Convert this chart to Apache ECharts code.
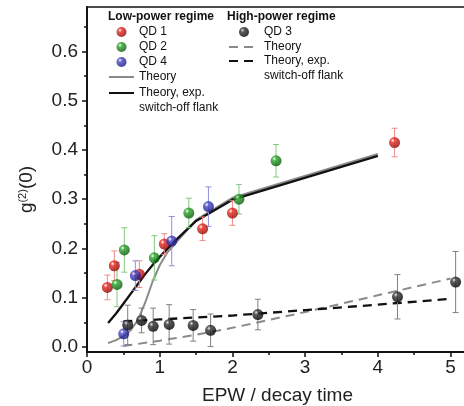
<!DOCTYPE html>
<html><head><meta charset="utf-8">
<script src="https://cdn.jsdelivr.net/npm/echarts@6/dist/echarts.min.js"></script>
<style>html,body{margin:0;padding:0;background:#fff}#c{width:464px;height:406px}</style>
</head><body><div id="c"></div>
<script>
// ---- data ----
const qd1X = [0.28, 0.376, 0.72, 1.063, 1.59, 2.0, 4.23];
const qd1Y = [0.121, 0.165, 0.148, 0.209, 0.240, 0.272, 0.415];
const qd1Err = [0.025, 0.03, 0.027, 0.021, 0.024, 0.025, 0.029];
const qd2X = [0.413, 0.513, 0.926, 1.40, 2.09, 2.6];
const qd2Y = [0.127, 0.197, 0.181, 0.272, 0.300, 0.378];
const qd2Err = [0.045, 0.045, 0.045, 0.03, 0.03, 0.033];
const qd4X = [0.505, 0.665, 1.165, 1.67];
const qd4Y = [0.027, 0.145, 0.215, 0.285];
const qd4Err = [0.025, 0.03, 0.05, 0.04];
const qd3X = [0.56, 0.75, 0.91, 1.13, 1.46, 1.70, 2.35, 4.27, 5.07];
const qd3Y = [0.045, 0.054, 0.042, 0.046, 0.044, 0.034, 0.066, 0.102, 0.132];
const qd3Err = [0.04, 0.025, 0.037, 0.04, 0.032, 0.033, 0.031, 0.045, 0.062];
const lowTheoryX = [0.29, 0.4, 0.5, 0.6, 0.7, 0.8, 0.9, 1.0, 1.1, 1.2, 1.5, 2.0, 4.0];
const lowTheoryY = [0.008, 0.014, 0.022, 0.034, 0.055, 0.090, 0.132, 0.166, 0.191, 0.208, 0.258, 0.303, 0.392];
const lowFlankX = [0.29, 0.4, 0.5, 0.6, 0.7, 0.8, 0.9, 1.0, 1.2, 1.5, 2.0, 4.0];
const lowFlankY = [0.049, 0.068, 0.088, 0.108, 0.128, 0.148, 0.166, 0.183, 0.214, 0.256, 0.299, 0.388];
const highTheoryX = [0.5, 1.0, 1.5, 2.0, 3.0, 4.0, 5.0];
const highTheoryY = [0.002, 0.013, 0.025, 0.039, 0.071, 0.105, 0.139];
const highFlankX = [0.5, 1.0, 1.5, 2.0, 3.0, 4.0, 5.0];
const highFlankY = [0.052, 0.056, 0.060, 0.064, 0.075, 0.086, 0.098];
const xTicks = [0, 1, 2, 3, 4, 5];
const xMinorTicks = [0.5, 1.5, 2.5, 3.5, 4.5];
const yTicks = [0, 0.1, 0.2, 0.3, 0.4, 0.5, 0.6];
const yMinorTicks = [0.05, 0.15, 0.25, 0.35, 0.45, 0.55, 0.65];

const FONT = 'Liberation Sans, Arial, sans-serif';
const zip = (a, b) => a.map((v, i) => [v, b[i]]);
const zip3 = (a, b, c) => a.map((v, i) => [v, b[i], c[i]]);

function ball(base, dark, hi) {
  return new echarts.graphic.RadialGradient(0.35, 0.32, 0.7, [
    { offset: 0, color: hi || '#ffffff' },
    { offset: 0.28, color: base },
    { offset: 1, color: dark }
  ]);
}

function errSeries(x, y, e, color) {
  return {
    type: 'custom', silent: true, z: 3,
    data: zip3(x, y, e),
    renderItem: function (params, api) {
      const xv = api.value(0), yv = api.value(1), ev = api.value(2);
      const t = api.coord([xv, yv + ev]);
      const b = api.coord([xv, yv - ev]);
      const w = 3;
      const st = { stroke: color, lineWidth: 1 };
      return {
        type: 'group', children: [
          { type: 'line', shape: { x1: t[0], y1: t[1], x2: b[0], y2: b[1] }, style: st },
          { type: 'line', shape: { x1: t[0] - w, y1: t[1], x2: t[0] + w, y2: t[1] }, style: st },
          { type: 'line', shape: { x1: b[0] - w, y1: b[1], x2: b[0] + w, y2: b[1] }, style: st }
        ]
      };
    }
  };
}

function scatter(name, x, y, color) {
  return { name: name, type: 'scatter', z: 5, symbol: 'circle', symbolSize: 11,
    data: zip(x, y), itemStyle: { color: color } };
}

const labelMap = {
  'QD 1': 'QD 1', 'QD 2': 'QD 2', 'QD 4': 'QD 4', 'QD 3': 'QD 3',
  'Theory (low)': 'Theory', 'Theory (high)': 'Theory',
  'Flank (low)': ' \nTheory, exp.\nswitch-off flank',
  'Flank (high)': ' \nTheory, exp.\nswitch-off flank'
};
const lineNames = ['Theory (low)', 'Theory (high)', 'Flank (low)', 'Flank (high)'];
const legendText = { fontFamily: FONT, fontSize: 12, color: '#111', lineHeight: 15 };
function legend(names, left, top, w) {
  return {
    data: names.map(n => lineNames.indexOf(n) >= 0 ? { name: n, itemStyle: { opacity: 0 } } : n),
    orient: 'vertical', left: left, top: top, padding: 0,
    itemWidth: w, itemHeight: 10, itemGap: 0, selectedMode: false,
    textStyle: legendText, formatter: n => labelMap[n]
  };
}

const chart = echarts.init(document.getElementById('c'), null, { renderer: 'canvas' });
chart.setOption({
  animation: false,
  backgroundColor: '#fff',
  textStyle: { fontFamily: FONT },
  title: [
    { text: 'Low-power regime', left: 108, top: 10, padding: 0,
      textStyle: { fontFamily: FONT, fontSize: 12, fontWeight: 'bold', color: '#111', lineHeight: 14 } },
    { text: 'High-power regime', left: 227, top: 10, padding: 0,
      textStyle: { fontFamily: FONT, fontSize: 12, fontWeight: 'bold', color: '#111', lineHeight: 14 } }
  ],
  legend: [
    legend(['QD 1', 'QD 2', 'QD 4', 'Theory (low)'], 108, 24.5, 25),
    legend(['Flank (low)'], 108, 70.5, 25),
    legend(['QD 3', 'Theory (high)'], 228, 24.5, 30),
    legend(['Flank (high)'], 228, 38.5, 30)
  ],
  grid: { left: 87, right: -4, top: 7, bottom: 54, outerBoundsMode: 'none', containLabel: false,
    show: true, borderColor: '#111', borderWidth: 1.5, backgroundColor: 'transparent' },
  xAxis: [
    { type: 'value', min: 0, max: 5.24, position: 'bottom',
      name: 'EPW / decay time', nameLocation: 'middle', nameGap: 34,
      nameTextStyle: { fontFamily: FONT, fontSize: 19, color: '#222' },
      axisLine: { show: true, onZero: false, lineStyle: { color: '#111', width: 1.8 } },
      axisTick: { show: true, inside: false, length: 5, customValues: xTicks, lineStyle: { color: '#111', width: 1.5 } },
      axisLabel: { customValues: xTicks, margin: 6, fontFamily: FONT, fontSize: 19, color: '#222' },
      splitLine: { show: false } },
    { type: 'value', min: 0, max: 5.24, position: 'bottom',
      axisLine: { show: false, onZero: false },
      axisTick: { show: true, inside: false, length: 3, customValues: xMinorTicks, lineStyle: { color: '#111', width: 1.5 } },
      axisLabel: { show: false }, splitLine: { show: false } }
  ],
  yAxis: [
    { type: 'value', min: -0.01, max: 0.69, position: 'left',
      name: '{g|g}{s|(2)}{g|(0)}', nameLocation: 'middle', nameGap: 50, nameRotate: 90,
      nameTextStyle: { padding: [0, 20, 0, 0], rich: {
        g: { fontFamily: FONT, fontSize: 19, color: '#222' },
        s: { fontFamily: FONT, fontSize: 11, color: '#222', padding: [0, 0, 9, 0] } } },
      axisLine: { show: true, onZero: false, lineStyle: { color: '#111', width: 1.8 } },
      axisTick: { show: true, inside: false, length: 5, customValues: yTicks, lineStyle: { color: '#111', width: 1.5 } },
      axisLabel: { customValues: yTicks, margin: 9, fontFamily: FONT, fontSize: 19, color: '#222',
        formatter: v => Number(v).toFixed(1) },
      splitLine: { show: false } },
    { type: 'value', min: -0.01, max: 0.69, position: 'left',
      axisLine: { show: false, onZero: false },
      axisTick: { show: true, inside: false, length: 3, customValues: yMinorTicks, lineStyle: { color: '#111', width: 1.5 } },
      axisLabel: { show: false }, splitLine: { show: false } }
  ],
  series: [
    { name: 'Theory (low)', type: 'line', symbol: 'none', z: 2, data: zip(lowTheoryX, lowTheoryY),
      lineStyle: { color: '#8a8a8a', width: 2 }, itemStyle: { color: '#8a8a8a' } },
    { name: 'Flank (low)', type: 'line', symbol: 'none', z: 2, data: zip(lowFlankX, lowFlankY),
      lineStyle: { color: '#111', width: 2.3 }, itemStyle: { color: '#111' } },
    { name: 'Theory (high)', type: 'line', symbol: 'none', z: 2, data: zip(highTheoryX, highTheoryY),
      lineStyle: { color: '#8a8a8a', width: 2, type: [9, 6] }, itemStyle: { color: '#8a8a8a' } },
    { name: 'Flank (high)', type: 'line', symbol: 'none', z: 2, data: zip(highFlankX, highFlankY),
      lineStyle: { color: '#111', width: 2.3, type: [9, 6] }, itemStyle: { color: '#111' } },
    errSeries(qd1X, qd1Y, qd1Err, '#f08a8a'),
    errSeries(qd2X, qd2Y, qd2Err, '#80c880'),
    errSeries(qd4X, qd4Y, qd4Err, '#9090e0'),
    errSeries(qd3X, qd3Y, qd3Err, '#808080'),
    scatter('QD 1', qd1X, qd1Y, ball('#e8261f', '#8c0b08')),
    scatter('QD 2', qd2X, qd2Y, ball('#2aa52a', '#0a560a')),
    scatter('QD 4', qd4X, qd4Y, ball('#4848c8', '#16167a')),
    scatter('QD 3', qd3X, qd3Y, ball('#333333', '#000000', '#dddddd'))
  ]
});
</script>
</body></html>
